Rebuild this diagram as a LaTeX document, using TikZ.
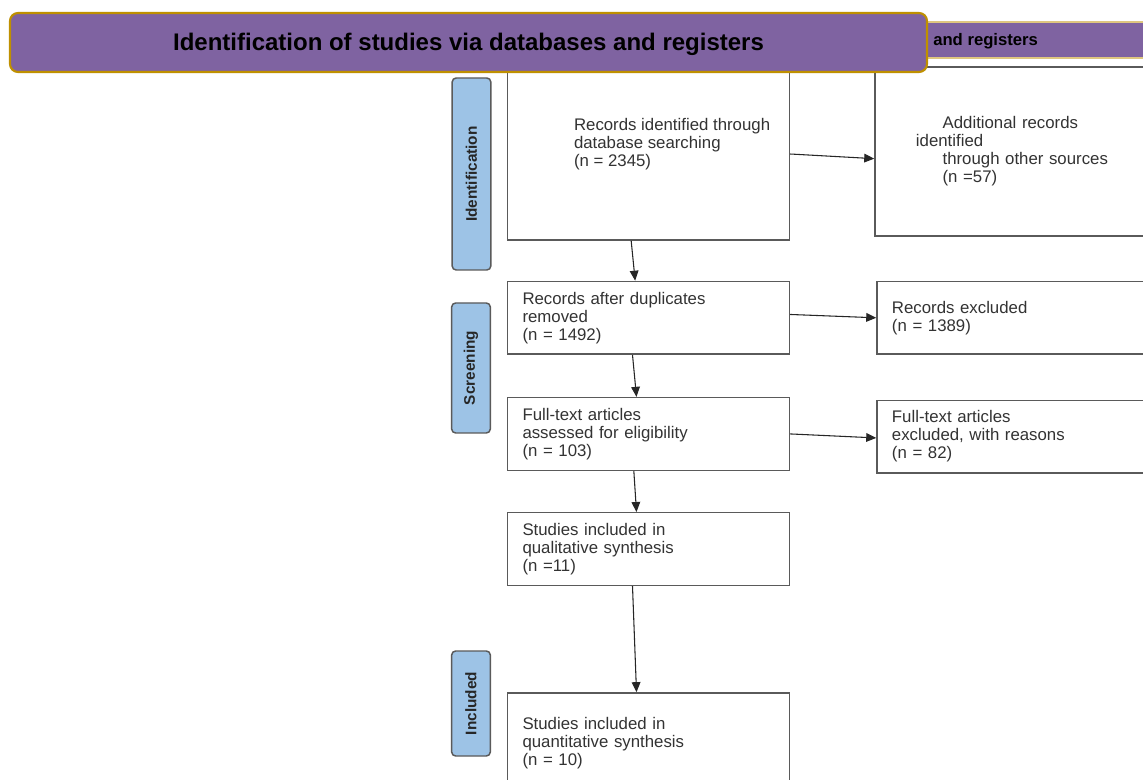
\documentclass[tikz,border=0pt]{standalone}
\usepackage{fontspec}
\setmainfont{Liberation Sans}
\usetikzlibrary{positioning,arrows.meta}
\definecolor{HeadPurple}{HTML}{7F63A1}
\definecolor{HeadGold}{HTML}{BF9000}
\definecolor{StageBlue}{HTML}{9DC3E6}
\definecolor{BoxGray}{HTML}{5A5A5A}
\definecolor{TextGray}{HTML}{333333}

\begin{document}
\begin{tikzpicture}[x=0.75pt, y=-0.75pt,
		box/.style={draw=BoxGray, line width=1.1pt, fill=white,
			minimum width=211.5pt, minimum height=54.5pt,
			text width=189pt, inner xsep=11.25pt,
			align=left, text=TextGray, font=\fontsize{12.6}{13.5}\selectfont},
		sidebox/.style={box, minimum width=214pt, text width=191.5pt},
		stage/.style={draw=BoxGray, line width=1.1pt, fill=StageBlue, rounded corners=3pt,
			rotate=90, minimum height=29pt, inner sep=0pt,
			text=black!85, font=\fontsize{11.5}{12}\selectfont\bfseries},
		arrow/.style={-{Triangle[length=7.5pt,width=6.5pt]}, line width=0.8pt, black!85}
		]
		\useasboundingbox (0,0) rectangle (1143,780);
		\clip (0,0) rectangle (1143,780);
		\fill[white] (0,0) rectangle (1143,780);

		% stages
		\node[stage, minimum width=144pt] (idlab) at (471.5,174) {Identification};
		\node[stage, minimum width=97.5pt] (scrlab) at (471,368) {Screening};
		\node[stage, minimum width=78.75pt] (inclab) at (471,703.5) {Included};

		% main column
		\node[box, minimum width=210.75pt, minimum height=147pt] (rec) at (648.5,142) {};
		\node[anchor=north west, inner sep=0pt, align=left, text=TextGray,
			font=\fontsize{12.6}{13.5}\selectfont] (rectxt) at ([shift={(67,75)}]rec.north west)
			{Records identified through\\database searching\\(n = 2345)};
		\node[box, below=30pt of rec] (dup) {Records after duplicates\\removed\\(n = 1492)};
		\node[box, below=31.5pt of dup] (full) {Full-text articles\\assessed for eligibility\\(n = 103)};
		\node[box, below=30.75pt of full] (qual) {Studies included in\\qualitative synthesis\\(n =11)};
		\node[box, below=79.5pt of qual, minimum height=75pt] (quant) {Studies included in\\quantitative synthesis\\(n = 10)};

		% right column
		\node[sidebox, right=63pt of rec, yshift=-7pt, minimum height=126.75pt,
			inner xsep=30.75pt, text width=153.75pt] (add)
			{\hspace*{20pt}Additional records\\identified\\\hspace*{20pt}through other sources\\\hspace*{20pt}(n =57)};
		\node[sidebox, right=64.5pt of dup] (excl) {Records excluded\\(n = 1389)};
		\node[sidebox, right=64.5pt of full, yshift=-2pt] (excl2) {Full-text articles\\excluded, with reasons\\(n = 82)};

		% header
		\node[draw=HeadGold!50, line width=0.8pt, fill=HeadPurple, anchor=west,
			minimum width=202.5pt, minimum height=27pt] (bar) at (900,40) {};
		\node[anchor=west, inner sep=0pt, font=\fontsize{12.5}{14}\selectfont\bfseries] (bartxt) at (933,41) {and registers};
		\node[draw=HeadGold, line width=1.6pt, fill=HeadPurple, rounded corners=6pt,
			minimum width=687.75pt, minimum height=44.25pt, text depth=0.5pt,
			font=\fontsize{18}{20}\selectfont\bfseries] (head) at (468.5,42.5)
			{Identification of studies via databases and registers};

		\draw[arrow] ([xshift=-13pt]rec.south) -- ([xshift=-10pt]dup.north);
		\draw[arrow] ([xshift=-12pt]dup.south) -- ([xshift=-9pt]full.north);
		\draw[arrow] ([xshift=-11pt]full.south) -- ([xshift=-9pt]qual.north);
		\draw[arrow] ([xshift=-12pt]qual.south) -- ([xshift=-9pt]quant.north);
		\draw[arrow] ([yshift=-9pt]rec.east) -- ([yshift=-5.5pt]add.west);
		\draw[arrow] ([yshift=2.5pt]dup.east) -- (excl.west);
		\draw[arrow] (full.east) -- ([yshift=-1pt]excl2.west);
	\end{tikzpicture}
\end{document}
